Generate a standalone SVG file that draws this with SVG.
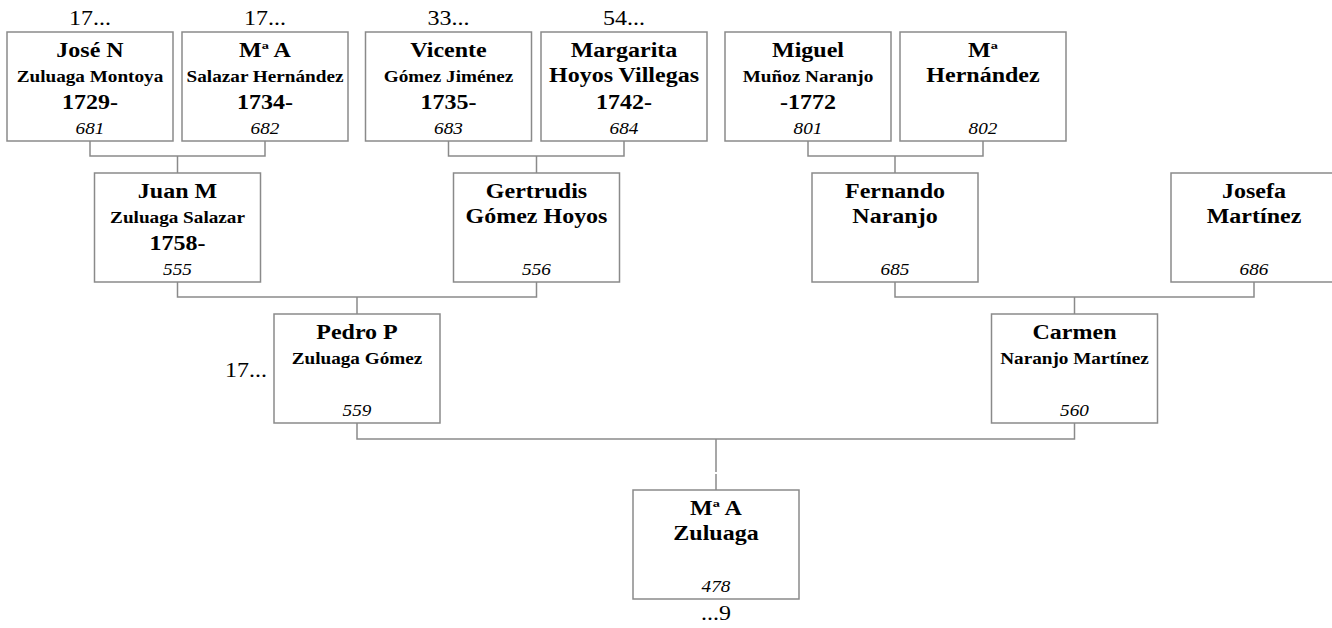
<svg xmlns="http://www.w3.org/2000/svg" width="1332" height="628" viewBox="0 0 1332 628" font-family="'Liberation Serif', 'Times New Roman', Times, serif">
<style>
.box{fill:#fff;stroke:#8a8a8a;stroke-width:1.5}
.con{fill:none;stroke:#8a8a8a;stroke-width:1.5}
text{font-family:'Liberation Serif','Times New Roman',Times,serif;fill:#000;text-anchor:middle}
.nm{font-weight:bold;font-size:20px}
.sb{font-weight:bold;font-size:16px}
.yr{font-weight:bold;font-size:20px}
.no{font-style:italic;font-size:16px}
.lb{font-size:20px}
</style>
<g id="connectors">
<path class="con" d="M90,141V156H265V141M177.5,156V173"/>
<path class="con" d="M448.5,141V156H624V141M536.5,156V173"/>
<path class="con" d="M808,141V156H983V141M895,156V173"/>
<path class="con" d="M177.5,282V297H536.5V282M357,297V314"/>
<path class="con" d="M895,282V297H1254V282M1074.5,297V314"/>
<path class="con" d="M357,423V439H1074.5V423M716,439V472M716,474V490"/>
</g>
<g id="n681" transform="translate(90,32)"><rect class="box" x="-83" y="0" width="166" height="109"/><g transform="scale(1.2,1)"><text class="nm" x="0" y="25">José N</text><text class="sb" x="0" y="50">Zuluaga Montoya</text><text class="yr" x="0" y="77">1729-</text><text class="no" x="0" y="102">681</text></g></g>
<g id="n682" transform="translate(265,32)"><rect class="box" x="-83" y="0" width="166" height="109"/><g transform="scale(1.2,1)"><text class="nm" x="0" y="25">Mª A</text><text class="sb" x="0" y="50">Salazar Hernández</text><text class="yr" x="0" y="77">1734-</text><text class="no" x="0" y="102">682</text></g></g>
<g id="n683" transform="translate(448.5,32)"><rect class="box" x="-83" y="0" width="166" height="109"/><g transform="scale(1.2,1)"><text class="nm" x="0" y="25">Vicente</text><text class="sb" x="0" y="50">Gómez Jiménez</text><text class="yr" x="0" y="77">1735-</text><text class="no" x="0" y="102">683</text></g></g>
<g id="n684" transform="translate(624,32)"><rect class="box" x="-83" y="0" width="166" height="109"/><g transform="scale(1.2,1)"><text class="nm" x="0" y="25">Margarita</text><text class="nm" x="0" y="50">Hoyos Villegas</text><text class="yr" x="0" y="77">1742-</text><text class="no" x="0" y="102">684</text></g></g>
<g id="n801" transform="translate(808,32)"><rect class="box" x="-83" y="0" width="166" height="109"/><g transform="scale(1.2,1)"><text class="nm" x="0" y="25">Miguel</text><text class="sb" x="0" y="50">Muñoz Naranjo</text><text class="yr" x="0" y="77">-1772</text><text class="no" x="0" y="102">801</text></g></g>
<g id="n802" transform="translate(983,32)"><rect class="box" x="-83" y="0" width="166" height="109"/><g transform="scale(1.2,1)"><text class="nm" x="0" y="25">Mª</text><text class="nm" x="0" y="50">Hernández</text><text class="no" x="0" y="102">802</text></g></g>
<g id="n555" transform="translate(177.5,173)"><rect class="box" x="-83" y="0" width="166" height="109"/><g transform="scale(1.2,1)"><text class="nm" x="0" y="25">Juan M</text><text class="sb" x="0" y="50">Zuluaga Salazar</text><text class="yr" x="0" y="77">1758-</text><text class="no" x="0" y="102">555</text></g></g>
<g id="n556" transform="translate(536.5,173)"><rect class="box" x="-83" y="0" width="166" height="109"/><g transform="scale(1.2,1)"><text class="nm" x="0" y="25">Gertrudis</text><text class="nm" x="0" y="50">Gómez Hoyos</text><text class="no" x="0" y="102">556</text></g></g>
<g id="n685" transform="translate(895,173)"><rect class="box" x="-83" y="0" width="166" height="109"/><g transform="scale(1.2,1)"><text class="nm" x="0" y="25">Fernando</text><text class="nm" x="0" y="50">Naranjo</text><text class="no" x="0" y="102">685</text></g></g>
<g id="n686" transform="translate(1254,173)"><rect class="box" x="-83" y="0" width="166" height="109"/><g transform="scale(1.2,1)"><text class="nm" x="0" y="25">Josefa</text><text class="nm" x="0" y="50">Martínez</text><text class="no" x="0" y="102">686</text></g></g>
<g id="n559" transform="translate(357,314)"><rect class="box" x="-83" y="0" width="166" height="109"/><g transform="scale(1.2,1)"><text class="nm" x="0" y="25">Pedro P</text><text class="sb" x="0" y="50">Zuluaga Gómez</text><text class="no" x="0" y="102">559</text></g></g>
<g id="n560" transform="translate(1074.5,314)"><rect class="box" x="-83" y="0" width="166" height="109"/><g transform="scale(1.2,1)"><text class="nm" x="0" y="25">Carmen</text><text class="sb" x="0" y="50">Naranjo Martínez</text><text class="no" x="0" y="102">560</text></g></g>
<g id="n478" transform="translate(716,490)"><rect class="box" x="-83" y="0" width="166" height="109"/><g transform="scale(1.2,1)"><text class="nm" x="0" y="25">Mª A</text><text class="nm" x="0" y="50">Zuluaga</text><text class="no" x="0" y="102">478</text></g></g>
<g id="labels">
<text class="lb" transform="translate(90,25) scale(1.2,1)">17...</text>
<text class="lb" transform="translate(265,25) scale(1.2,1)">17...</text>
<text class="lb" transform="translate(448.5,25) scale(1.2,1)">33...</text>
<text class="lb" transform="translate(624,25) scale(1.2,1)">54...</text>
<text class="lb" transform="translate(267,377) scale(1.2,1)" style="text-anchor:end">17...</text>
<text class="lb" transform="translate(716,620) scale(1.2,1)">...9</text>
</g>
</svg>
